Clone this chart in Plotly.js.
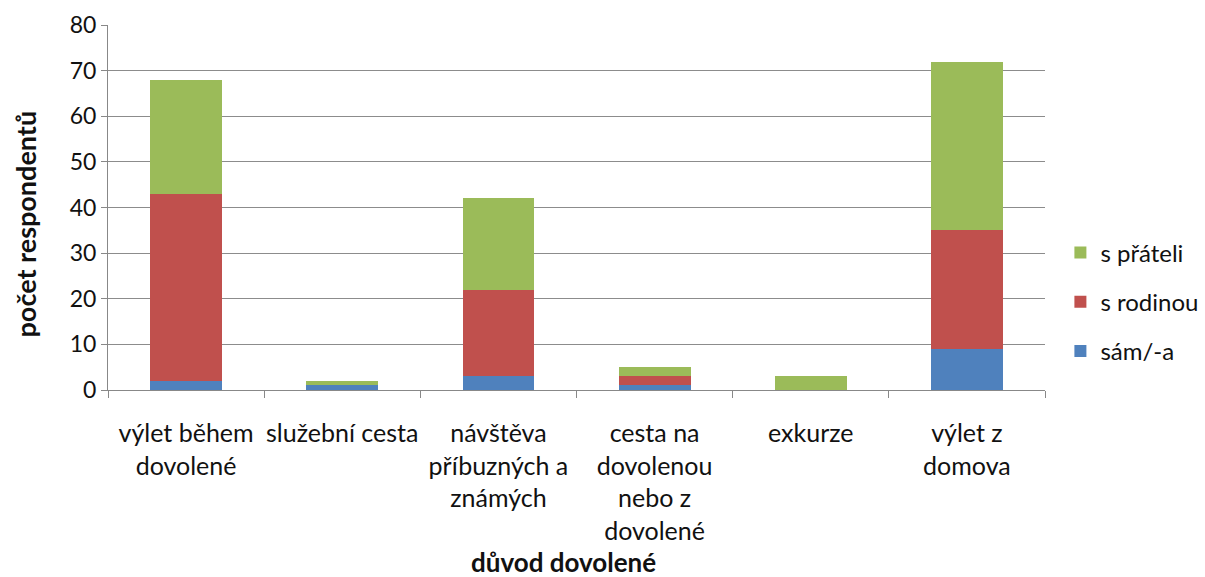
<!DOCTYPE html>
<html>
<head>
<meta charset="utf-8">
<script src="https://cdn.plot.ly/plotly-3.0.1.min.js"></script>
<style>html,body{margin:0;padding:0;background:#fff;}</style>
</head>
<body>
<div id="chart" style="width:1205px;height:577px;"></div>
<script>
var categories = ["výlet během<br>dovolené", "služební cesta", "návštěva<br>příbuzných a<br>známých", "cesta na<br>dovolenou<br>nebo z<br>dovolené", "exkurze", "výlet z<br>domova"];
var samA = [2, 1, 3, 1, 0, 9];
var sRodinou = [41, 0, 19, 2, 0, 26];
var sPrateli = [25, 1, 20, 2, 3, 37];
var yTicks = [0, 10, 20, 30, 40, 50, 60, 70, 80];
var xTitle = "důvod dovolené";
var yTitle = "počet respondentů";

var font = "Lato, 'Open Sans', sans-serif";
var traces = [
  {name: "sám/-a", legendgroup: "a", legendrank: 3, x: categories, y: samA, type: "bar", marker: {color: "#4F81BD"}},
  {name: "s rodinou", legendgroup: "b", legendrank: 2, x: categories, y: sRodinou, type: "bar", marker: {color: "#C0504D"}},
  {name: "s přáteli", legendgroup: "c", legendrank: 1, x: categories, y: sPrateli, type: "bar", marker: {color: "#9BBB59"}}
];
var layout = {
  width: 1205, height: 577,
  margin: {l: 108, r: 160, t: 25, b: 187},
  barmode: "stack",
  bargap: 0.54,
  paper_bgcolor: "#fff", plot_bgcolor: "#fff",
  font: {family: font, size: 24, color: "#111"},
  showlegend: true,
  legend: {xref: "container", yref: "container", x: 0.88, y: 1 - 302 / 577, yanchor: "middle", xanchor: "left",
           traceorder: "grouped", font: {size: 24}, itemwidth: 30, tracegroupgap: 15, itemsizing: "constant"},
  xaxis: {
    type: "category", tickson: "boundaries", ticks: "outside", ticklen: 7, tickcolor: "#888",
    showline: true, linecolor: "#888", linewidth: 1, tickangle: 0,
    tickfont: {size: 25}, ticklabelstandoff: 21
  },
  yaxis: {
    range: [0, 80], tickvals: yTicks, ticks: "outside", ticklen: 6, tickcolor: "#888",
    showline: true, linecolor: "#888", linewidth: 1,
    showgrid: true, gridcolor: "#8c8c8c", gridwidth: 1, zeroline: false,
    tickfont: {size: 23}
  },
  annotations: [
    {text: "<b>" + xTitle + "</b>", xref: "paper", yref: "paper", x: 0.486, y: -0.471,
     xanchor: "center", yanchor: "middle", showarrow: false, font: {size: 26}},
    {text: "<b>" + yTitle + "</b>", xref: "paper", yref: "paper", x: -0.088, y: 0.455,
     xanchor: "center", yanchor: "middle", textangle: -90, showarrow: false, font: {size: 27}}
  ]
};
Plotly.newPlot("chart", traces, layout, {displayModeBar: false});
</script>
</body>
</html>
